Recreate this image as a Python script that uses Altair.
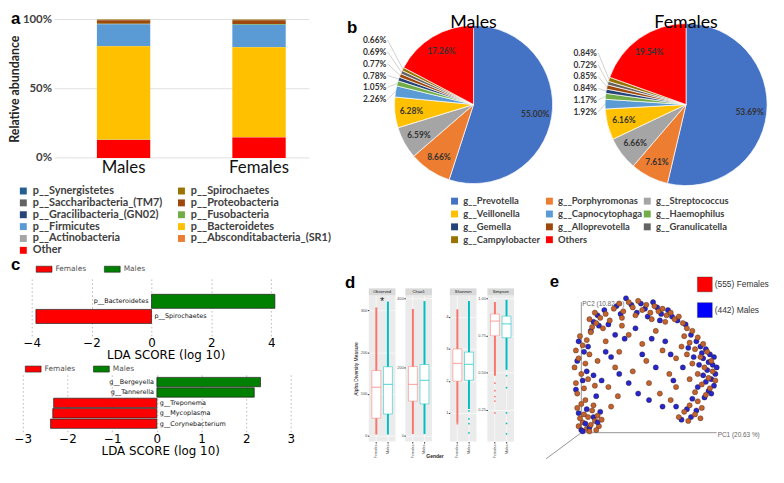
import math
import altair as alt
import pandas as pd

# ======================= DATA =======================
# (a) phylum-level relative abundance (%)
phyla = ["p__Synergistetes", "p__Spirochaetes", "p__Saccharibacteria_(TM7)", "p__Proteobacteria",
         "p__Gracilibacteria_(GN02)", "p__Fusobacteria", "p__Firmicutes", "p__Bacteroidetes",
         "p__Actinobacteria", "p__Absconditabacteria_(SR1)", "Other"]
phyla_colors = ["#255E91", "#997300", "#636363", "#9E480E", "#264478", "#70AD47", "#5B9BD5",
                "#FFC000", "#A5A5A5", "#ED7D31", "#FF0000"]
males_phyla = [0.05, 0.25, 0.15, 2.6, 0.05, 0.4, 15.9, 67.4, 0.2, 0.1, 12.9]
females_phyla = [0.05, 0.25, 0.15, 2.8, 0.05, 0.5, 16.3, 64.8, 0.2, 0.1, 14.8]
bar_groups = ["Males", "Females"]
pct_ticks = [0, 50, 100]

# (b) genus-level composition (%)
genera = ["g__Prevotella", "g__Porphyromonas", "g__Streptococcus", "g__Veillonella",
          "g__Capnocytophaga", "g__Haemophilus", "g__Gemella", "g__Alloprevotella",
          "g__Granulicatella", "g__Campylobacter", "Others"]
genus_colors = ["#4472C4", "#ED7D31", "#A5A5A5", "#FFC000", "#5B9BD5", "#70AD47",
                "#264478", "#9E480E", "#636363", "#997300", "#FF0000"]
males_genus = [55.00, 8.66, 6.59, 6.28, 2.26, 1.05, 0.78, 0.77, 0.69, 0.66, 17.26]
females_genus = [53.69, 7.61, 6.66, 6.16, 1.92, 1.17, 0.84, 0.85, 0.72, 0.84, 19.54]

# (c) LEfSe LDA scores
lda_phylum_taxa = ["p__Bacteroidetes", "p__Spirochaetes"]
lda_phylum_score = [4.12, -3.86]
lda_genus_taxa = ["g__Bergeyella", "g__Tannerella", "g__Treponema", "g__Mycoplasma", "g__Corynebacterium"]
lda_genus_score = [2.32, 2.18, -2.31, -2.33, -2.38]
lda_classes = ["Females", "Males"]
lda_colors = ["#FF0000", "#008000"]

# (d) alpha diversity box plots
div_metrics = ["Observed", "Chao1", "Shannon", "Simpson"]
div_ticks = [[0, 100, 200, 300], [0, 100, 200, 300, 400], [1, 2, 3, 4], [0.25, 0.5, 0.75, 1.0]]
div_formats = ["d", "d", "d", ".2f"]
div_domains = [[-14, 336], [-17, 410], [0.10, 4.68], [0.038, 1.02]]
genders = ["Females", "Males"]
gender_colors = ["#F8766D", "#00BFC4"]
f_min = [3, 5, 0.69, 0.48]
f_q1 = [42, 101, 1.99, 0.748]
f_med = [116, 150, 2.55, 0.847]
f_q3 = [156, 202, 3.0, 0.894]
f_max = [307, 370, 4.24, 0.975]
m_min = [3, 5, 1.12, 0.52]
m_q1 = [52, 93, 2.02, 0.735]
m_med = [123, 162, 2.52, 0.828]
m_q3 = [165, 208, 2.9, 0.88]
m_max = [321, 393, 4.5, 0.99]
f_outliers = [[], [], [0.66], [0.43, 0.38, 0.34, 0.31, 0.23]]
m_outliers = [[], [], [1.06, 0.81, 0.66, 0.37], [0.48, 0.40, 0.23, 0.16, 0.09]]

# (e) PCoA coordinates (PC1, PC2)
female_pc1 = [-0.02, 0.01, 0.04, 0.07, 0.10, 0.13, 0.02, 0.05, 0.08, 0.12, -0.03, 0.00, 0.15, 0.06, 0.09, -0.01, 0.11, 0.03,
              -0.03, 0.02, -0.04, 0.05, 0.00, -0.05, 0.03, -0.02, 0.06, -0.04, 0.01, 0.04, -0.01, 0.07, 0.10, 0.12,
              0.08, 0.11, 0.06, 0.14, 0.18, 0.21, 0.16, 0.10,
              0.24, 0.28, 0.31, 0.35, 0.38, 0.42, 0.45, 0.48, 0.51, 0.54, 0.57, 0.60, 0.63, 0.66, 0.69, 0.72, 0.75, 0.30, 0.40, 0.52, 0.62,
              0.78, 0.82, 0.76, 0.86, 0.80, 0.90, 0.84, 0.93, 0.78, 0.88, 0.96, 0.82, 0.91, 0.97, 0.86, 0.94, 0.99, 0.80, 0.89, 0.95, 0.84, 0.92, 0.74, 0.70,
              0.86, 0.80, 0.89, 0.76, 0.84, 0.72, 0.79, 0.88,
              0.20, 0.28, 0.35, 0.45, 0.55, 0.60, 0.48, 0.38, 0.25, 0.65, 0.70, 0.58, 0.18, 0.30, 0.50, 0.66, 0.22, 0.27]
female_pc2 = [0.05, 0.08, 0.03, 0.06, 0.09, 0.05, 0.14, 0.12, 0.17, 0.13, 0.19, 0.22, 0.10, 0.01, 0.21, 0.11, 0.02, 0.25,
              0.30, 0.34, 0.38, 0.41, 0.45, 0.50, 0.53, 0.57, 0.60, 0.63, 0.67, 0.71, 0.74, 0.77, 0.36, 0.55,
              0.81, 0.84, 0.87, 0.88, 0.91, 0.86, 0.80, 0.92,
              0.95, 0.99, 0.93, 1.00, 0.96, 1.01, 0.94, 0.98, 0.92, 0.97, 0.93, 0.95, 0.90, 0.92, 0.87, 0.89, 0.84, 0.88, 0.90, 0.87, 0.85,
              0.80, 0.78, 0.74, 0.73, 0.69, 0.68, 0.64, 0.62, 0.60, 0.58, 0.55, 0.53, 0.50, 0.47, 0.45, 0.42, 0.40, 0.41, 0.37, 0.34, 0.31, 0.29, 0.66, 0.57,
              0.24, 0.21, 0.19, 0.16, 0.14, 0.12, 0.09, 0.11,
              0.35, 0.62, 0.75, 0.68, 0.78, 0.63, 0.55, 0.47, 0.50, 0.45, 0.35, 0.30, 0.70, 0.82, 0.38, 0.25, 0.20, 0.28]
male_pc1 = [0.00, 0.03, 0.06, 0.09, -0.02, 0.12, 0.04, 0.14, 0.01,
            -0.04, 0.01, 0.04, -0.03, 0.02, -0.02, 0.05, 0.09, 0.11,
            0.09, 0.13, 0.17, 0.12, 0.20, 0.07,
            0.26, 0.33, 0.37, 0.41, 0.44, 0.47, 0.53, 0.56, 0.59, 0.64, 0.67, 0.71, 0.29, 0.49, 0.58,
            0.77, 0.81, 0.85, 0.88, 0.92, 0.95, 0.90, 0.97, 0.93, 0.99, 0.96, 0.92, 0.98, 0.94, 0.90, 0.87, 0.83, 0.79, 0.86, 0.91, 0.96, 1.00, 0.98, 0.94, 0.89,
            0.78, 0.82, 0.74, 0.85, 0.81, 0.70,
            0.15, 0.22, 0.32, 0.40, 0.52, 0.62, 0.45, 0.35, 0.28, 0.55, 0.68, 0.60, 0.42, 0.75, 0.25, 0.18, 0.66, 0.50]
male_pc2 = [0.02, 0.07, 0.04, 0.12, 0.15, 0.08, 0.18, 0.16, 0.01,
            0.33, 0.40, 0.47, 0.55, 0.62, 0.70, 0.66, 0.44, 0.28,
            0.85, 0.82, 0.94, 0.90, 0.83, 0.78,
            0.97, 1.03, 0.98, 0.92, 0.99, 0.95, 1.00, 0.96, 0.91, 0.94, 0.89, 0.86, 0.91, 0.89, 0.86,
            0.83, 0.75, 0.70, 0.66, 0.64, 0.60, 0.57, 0.52, 0.48, 0.45, 0.41, 0.39, 0.36, 0.32, 0.44, 0.52, 0.58, 0.65, 0.35, 0.27, 0.30, 0.50, 0.58, 0.54, 0.61,
            0.18, 0.26, 0.10, 0.17, 0.12, 0.20,
            0.40, 0.58, 0.72, 0.80, 0.72, 0.70, 0.60, 0.38, 0.45, 0.50, 0.40, 0.20, 0.30, 0.50, 0.75, 0.62, 0.60, 0.25]
pcoa_groups = ["Females", "Males"]
pcoa_legend = ["(555) Females", "(442) Males"]


# ======================= HELPERS =======================
def letter(ch, x, y):
    return alt.Chart(pd.DataFrame({"t": [ch]})).mark_text(
        fontSize=17, fontWeight="bold", font="Liberation Sans", color="#000",
        align="left", baseline="top").encode(text="t:N", x=alt.value(x), y=alt.value(y))


def indep(c):
    return c.resolve_scale(color="independent", fill="independent", stroke="independent")


def column_of(items, ncols, c):
    """Entries that sit in column c when items are read row by row."""
    return [items[k] for k in range(c, len(items), ncols)]


def legend_column(items, all_items, all_colors, field, lx, ly, size, rowpad):
    cols = [all_colors[all_items.index(it)] for it in items]
    return alt.Chart(pd.DataFrame({field: items})).mark_square(opacity=0).encode(
        color=alt.Color(f"{field}:N", scale=alt.Scale(domain=items, range=cols),
                        legend=alt.Legend(title=None, orient="none", legendX=lx, legendY=ly,
                                          symbolType="square", symbolSize=49, symbolOpacity=1,
                                          symbolStrokeWidth=0, labelFont="Lato", labelFontSize=size,
                                          labelFontWeight="bold", labelColor="#404040",
                                          rowPadding=rowpad, labelLimit=250)))


# ======================= PANEL A =======================
rows = []
for grp, vals in zip(bar_groups, [males_phyla, females_phyla]):
    for i, (p, v) in enumerate(zip(phyla, vals)):
        rows.append({"group": grp, "phylum": p, "abundance": v, "rank": i})
df_a = pd.DataFrame(rows)

A_W, A_H = 296, 140
y_a_scale = alt.Scale(domain=[0, 100], nice=False)
y_a_axis = alt.Axis(values=pct_ticks, labelExpr="datum.value + '%'", labelFont="Lato", offset=-38,
                    labelFontSize=11.5, labelFontWeight="bold", labelColor="#404040",
                    grid=False, domain=False, ticks=False, labelPadding=3,
                    title="Relative abundance", titleFont="Lato", titleFontSize=12.5,
                    titleFontWeight="bold", titleColor="#262626", titlePadding=1)

grid_a = alt.Chart(pd.DataFrame({"abundance": pct_ticks})).mark_rule(color="#e0e0e0", strokeWidth=1).encode(
    y=alt.Y("abundance:Q", scale=y_a_scale, axis=y_a_axis), x=alt.value(38), x2=alt.value(A_W))
bars_a = alt.Chart(df_a).mark_bar().encode(
    x=alt.X("group:N", sort=bar_groups,
            scale=alt.Scale(paddingInner=0.606, paddingOuter=0.383, align=0.771),
            axis=alt.Axis(title=None, labelAngle=0, labelFont="Lato", labelFontSize=17,
                          labelColor="#111", ticks=False, domain=False, labelPadding=2)),
    y=alt.Y("abundance:Q", stack="zero", scale=y_a_scale, axis=y_a_axis),
    color=alt.Color("phylum:N", scale=alt.Scale(domain=phyla, range=phyla_colors), legend=None),
    order=alt.Order("rank:Q", sort="descending"),
)
leg_a1 = legend_column(column_of(phyla, 2, 0), phyla, phyla_colors, "pa1", 1, 168, 11, 0)
leg_a2 = legend_column(column_of(phyla, 2, 1), phyla, phyla_colors, "pa2", 161, 168, 11, 0)
panel_a = alt.layer(grid_a, bars_a, leg_a1, leg_a2, letter("a", -6, -8)).resolve_scale(
    color="independent").properties(width=A_W, height=A_H)

# ======================= PANEL B =======================
theta_scale = alt.Scale(domain=[0, 100], range=[0, 2 * math.pi])
genus_scale = alt.Scale(domain=genera, range=genus_colors)


def pie_view(title, values, R, W, H=172, with_letter=False):
    recs = []
    cum = 0.0
    for g, v in zip(genera, values):
        recs.append({"genus": g, "start": cum, "end": cum + v, "mid": cum + v / 2,
                     "label": f"{v:.2f}%", "small": v < 5})
        cum += v
    df = pd.DataFrame(recs)
    big = df[~df["small"]]
    small = df[df["small"]].reset_index(drop=True).copy()
    # label layout for thin slices: a column left of the pie, leader lines to the slice edge
    ang = [m / 100 * 2 * math.pi for m in small["mid"]]
    small["ax"] = [R * math.sin(a) for a in ang]
    small["ay"] = [-R * math.cos(a) for a in ang]
    y0 = small["ay"].iloc[0] + 8
    small["ly"] = [y0 - 12 * i for i in range(len(small))]
    small["lx"] = -(R + 20)
    small["lx_end"] = -(R + 7)

    xs = alt.Scale(domain=[-W / 2, W / 2], nice=False, zero=False)
    ys = alt.Scale(domain=[-H / 2, H / 2], nice=False, zero=False, reverse=True)

    arcs = alt.Chart(df).mark_arc(outerRadius=R, stroke="white", strokeWidth=0.7).encode(
        theta=alt.Theta("start:Q", scale=theta_scale), theta2="end:Q",
        color=alt.Color("genus:N", scale=genus_scale, legend=None))
    inner = alt.Chart(big).mark_text(radius=R * 0.79, fontSize=8.5, font="Lato", fontWeight="bold",
                                     color="#333").encode(
        theta=alt.Theta("mid:Q", scale=theta_scale), text="label:N")
    leaders = alt.Chart(small).mark_rule(color="#b0b0b0", strokeWidth=0.6).encode(
        x=alt.X("ax:Q", scale=xs, axis=None), y=alt.Y("ay:Q", scale=ys, axis=None),
        x2="lx_end:Q", y2="ly:Q")
    outer = alt.Chart(small).mark_text(fontSize=8.5, font="Lato", fontWeight="bold", color="#333").encode(
        x=alt.X("lx:Q", scale=xs, axis=None), y=alt.Y("ly:Q", scale=ys, axis=None), text="label:N")
    layers = [arcs, inner, leaders, outer]
    if with_letter:
        layers.append(letter("b", -22, 1))
    return alt.layer(*layers).properties(
        width=W, height=H,
        title=alt.TitleParams(title, fontSize=18, font="Lato", fontWeight="normal", color="#000", offset=-13))


pie_m = pie_view("Males", males_genus, 80, 212, with_letter=True)
pie_f = pie_view("Females", females_genus, 82, 164)
pies = alt.hconcat(pie_m, pie_f, spacing=-5)

leg_b = [legend_column(column_of(genera, 3, c), genera, genus_colors, f"gb{c}", lx, 2, 9.5, 2)
         for c, lx in zip(range(3), [82, 178, 277])]
legend_b = alt.layer(*leg_b).resolve_scale(color="independent").properties(width=1, height=1)
panel_b = indep(alt.vconcat(pies, legend_b, spacing=2))

# ======================= PANEL C =======================
cls_scale = alt.Scale(domain=lda_classes, range=lda_colors)


def lda_view(taxa, scores, domain, ticks, W, H, pi, po, align, lx, ly, with_letter=False):
    df = pd.DataFrame({"taxon": taxa, "score": scores,
                       "cls": ["Males" if s > 0 else "Females" for s in scores]})
    x = alt.X("score:Q", scale=alt.Scale(domain=domain, nice=False),
              axis=alt.Axis(values=ticks, format="d", grid=True, gridDash=[1.5, 2.5], gridColor="#9a9a9a",
                            gridWidth=0.7, domain=False, ticks=False, labelFont="DejaVu Sans",
                            labelFontSize=12, labelColor="#000", labelPadding=2,
                            title="LDA SCORE (log 10)", titleFont="DejaVu Sans", titleFontSize=12,
                            titleFontWeight="normal", titleColor="#000", titlePadding=1))
    y = alt.Y("taxon:N", sort=taxa, axis=None,
              scale=alt.Scale(paddingInner=pi, paddingOuter=po, align=align))
    base = alt.Chart(df)
    bars = base.mark_bar(stroke="#222", strokeWidth=0.7).encode(
        x=x, y=y,
        color=alt.Color("cls:N", scale=cls_scale,
                        legend=alt.Legend(title=None, orient="none", legendX=lx, legendY=ly,
                                          direction="horizontal", symbolType="M-1,-0.38H1V0.38H-1Z",
                                          symbolSize=256, symbolStrokeColor="#222", symbolStrokeWidth=0.6,
                                          labelFont="DejaVu Sans", labelFontSize=7.5, labelColor="#555",
                                          columnPadding=16, labelOffset=3)))
    pos = base.transform_filter("datum.score > 0").mark_text(
        align="right", dx=-3, fontSize=6.5, font="DejaVu Sans", color="#111").encode(
        x=alt.datum(0), y=y, text="taxon:N")
    neg = base.transform_filter("datum.score < 0").mark_text(
        align="left", dx=3, fontSize=6.5, font="DejaVu Sans", color="#111").encode(
        x=alt.datum(0), y=y, text="taxon:N")
    layers = [bars, pos, neg]
    if with_letter:
        layers.append(letter("c", -6, -20))
    return alt.layer(*layers).properties(width=W, height=H)


lda1 = lda_view(lda_phylum_taxa, lda_phylum_score, [-4.495, 5.44], list(range(-4, 6)), 301, 60,
                0.07, 1.0, 0.59, 19, -16, with_letter=True)
lda2 = lda_view(lda_genus_taxa, lda_genus_score, [-3.133, 3.283], list(range(-3, 4)), 290, 60,
                0.1, 0.4, 0.6, 8, -12)
panel_c = indep(alt.vconcat(lda1, lda2, spacing=0))

# ======================= PANEL D =======================
g_scale = alt.Scale(domain=genders, range=gender_colors)


def div_view(i, W=27, H=148):
    first = i == 0
    last = i == len(div_metrics) - 1
    df = pd.DataFrame({"gender": genders, "lo": [f_min[i], m_min[i]], "q1": [f_q1[i], m_q1[i]],
                       "med": [f_med[i], m_med[i]], "q3": [f_q3[i], m_q3[i]], "hi": [f_max[i], m_max[i]]})
    pts = pd.DataFrame({"gender": ["Females"] * len(f_outliers[i]) + ["Males"] * len(m_outliers[i]),
                        "v": f_outliers[i] + m_outliers[i]})
    ys = alt.Scale(domain=div_domains[i], nice=False, zero=False)
    x = alt.X("gender:N", sort=genders, scale=alt.Scale(paddingInner=0, paddingOuter=0.15),
              axis=alt.Axis(title=None, labelAngle=270, labelFont="Liberation Sans", labelFontSize=3.6,
                            labelColor="#4d4d4d", tickSize=1.5, tickColor="#333", domain=False,
                            labelPadding=1, grid=True, gridColor="white", gridWidth=0.6))
    yax = alt.Axis(values=div_ticks[i], format=div_formats[i], labelFont="Liberation Sans",
                   labelFontSize=4, labelColor="#4d4d4d", tickSize=1.5, tickColor="#333",
                   labelPadding=0.5, domain=False, grid=True, gridColor="white", gridWidth=0.6,
                   title="Alpha Diversity Measure" if first else None, titleFont="Liberation Sans",
                   titleFontSize=5, titleFontWeight="normal", titlePadding=1.5)
    dense = alt.Chart(df).mark_rule(strokeWidth=2).encode(
        x=x, y=alt.Y("lo:Q", scale=ys, axis=yax), y2="hi:Q",
        color=alt.Color("gender:N", scale=g_scale, legend=None))
    sparse = alt.Chart(pts).mark_circle(size=3, opacity=1).encode(
        x=x, y=alt.Y("v:Q", scale=ys), color=alt.Color("gender:N", scale=g_scale, legend=None))
    leg = alt.Legend(title="Gender", orient="none", legendX=W + 6, legendY=64, titleFont="Liberation Sans",
                     titleFontSize=5, titleFontWeight="bold", labelFont="Liberation Sans", labelFontSize=5,
                     labelColor="#333", symbolType="square", symbolSize=30, symbolFillColor="white",
                     symbolStrokeWidth=0.6, rowPadding=0.5, labelOffset=2) if last else None
    box = alt.Chart(df).mark_bar(size=9, fill="white", strokeWidth=0.5).encode(
        x=x, y=alt.Y("q1:Q", scale=ys), y2="q3:Q",
        stroke=alt.Stroke("gender:N", scale=g_scale, legend=leg))
    med = alt.Chart(df).mark_tick(size=9, thickness=1).encode(
        x=x, y=alt.Y("med:Q", scale=ys), color=alt.Color("gender:N", scale=g_scale, legend=None))
    strip_df = pd.DataFrame({"m": [div_metrics[i]]})
    strip = alt.Chart(strip_df).mark_rect(fill="#D9D9D9").encode(
        x=alt.value(0), x2=alt.value(W), y=alt.value(-7), y2=alt.value(0))
    strip_t = alt.Chart(strip_df).mark_text(fontSize=4.2, font="Liberation Sans", color="#1a1a1a").encode(
        x=alt.value(W / 2), y=alt.value(-3.5), text="m:N")
    layers = [dense, sparse, box, med, strip, strip_t]
    if first:
        layers.append(letter("d", -24, -20))
        layers.append(alt.Chart(pd.DataFrame({"s": ["*"]})).mark_text(
            fontSize=11, font="Liberation Sans", color="#222").encode(
            x=alt.value(W / 2), y=alt.value(7), text="s:N"))
    if i == 1:
        layers.append(alt.Chart(pd.DataFrame({"s": ["Gender"]})).mark_text(
            fontSize=5, font="Liberation Sans", fontWeight="bold", color="#222").encode(
            x=alt.value(W + 3), y=alt.value(H + 15), text="s:N"))
    return alt.layer(*layers).properties(
        width=W, height=H, view=alt.ViewBackground(fill="#EBEBEB", stroke=None))


panel_d = alt.hconcat(*[div_view(i) for i in range(4)], spacing=1).resolve_scale(
    y="independent", color="independent", stroke="independent")

# ======================= PANEL E =======================
prow = []
nf, nm = len(female_pc1), len(male_pc1)
for k in range(max(nf, nm)):
    if k < nf:
        prow.append({"pc1": female_pc1[k], "pc2": female_pc2[k], "grp": "Females"})
    if k < nm:
        prow.append({"pc1": male_pc1[k], "pc2": male_pc2[k], "grp": "Males"})
df_e = pd.DataFrame(prow)
E_W, E_H = 246, 165
ex = alt.Scale(domain=[-0.358, 1.438], nice=False, zero=False)
ey = alt.Scale(domain=[-0.197, 1.053], nice=False, zero=False)
axes_df = pd.DataFrame({"x": [0, 0, 0], "y": [0, 0, 0], "x2": [1.0, 0.0, -0.26], "y2": [0.0, 1.0, -0.2]})
axis_lab = pd.DataFrame({"x": [1.0, 0.0], "y": [0.0, 1.0], "t": ["PC1 (20.63 %)", "PC2 (10.82 %)"]})

e_axes = alt.Chart(axes_df).mark_rule(color="#7a7a7a", strokeWidth=0.8).encode(
    x=alt.X("x:Q", scale=ex, axis=None), y=alt.Y("y:Q", scale=ey, axis=None), x2="x2:Q", y2="y2:Q")
e_lab = alt.Chart(axis_lab).mark_text(align="left", dx=1, dy=2, fontSize=6.5, font="Liberation Sans",
                                      color="#666").encode(
    x=alt.X("x:Q", scale=ex, axis=None), y=alt.Y("y:Q", scale=ey, axis=None), text="t:N")
e_pts = alt.Chart(df_e).mark_circle(size=28, stroke="#2b1a10", strokeWidth=0.35, opacity=1).encode(
    x=alt.X("pc1:Q", scale=ex, axis=None), y=alt.Y("pc2:Q", scale=ey, axis=None),
    fill=alt.Fill("grp:N", scale=alt.Scale(domain=pcoa_groups, range=["#C4622D", "#2626CC"]), legend=None))
e_leg = alt.Chart(pd.DataFrame({"lab": pcoa_legend})).mark_square(opacity=0).encode(
    color=alt.Color("lab:N", scale=alt.Scale(domain=pcoa_legend, range=["#FF0000", "#0000FF"]),
                    legend=alt.Legend(title=None, orient="none", legendX=166, legendY=-19,
                                      symbolType="square", symbolSize=225, symbolOpacity=1,
                                      symbolStrokeColor="#333", symbolStrokeWidth=0.4,
                                      labelFont="Liberation Sans", labelFontSize=8.5, labelColor="#333",
                                      rowPadding=8, labelOffset=2)))
panel_e = alt.layer(e_axes, e_lab, e_pts, e_leg, letter("e", 17, -21)).properties(width=E_W, height=E_H)

# ======================= LAYOUT =======================
panel_de = indep(alt.hconcat(panel_d, panel_e, spacing=19))
left_col = indep(alt.vconcat(panel_a, panel_c, spacing=0))
right_col = indep(alt.vconcat(panel_b, panel_de, spacing=29))
chart = indep(alt.hconcat(left_col, right_col, spacing=14)).properties(
    padding={"left": 0, "top": 0, "right": 0, "bottom": 0},
    background="white").configure_view(stroke=None)

chart.save("out.html", embed_options={"renderer": "svg", "actions": False})
